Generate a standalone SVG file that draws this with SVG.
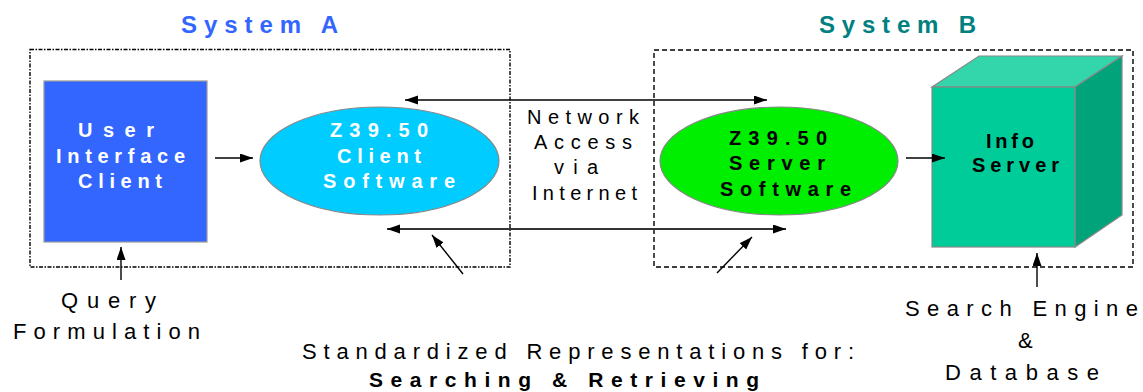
<svg xmlns="http://www.w3.org/2000/svg" width="1143" height="392" viewBox="0 0 1143 392">
  <style>
    .t { font-family: "Liberation Sans", Arial, sans-serif; }
    .b { font-weight: bold; }
    .node-w { fill: #ffffff; font-size: 20px; font-weight: bold; }
    .node-k { fill: #000000; font-size: 20px; font-weight: bold; }
    .lbl { fill: #000000; font-size: 20px; }
    .cap { fill: #000000; font-size: 22px; }
    .edge { stroke: #000000; stroke-width: 1.4; fill: none; }
    .edge-dark { stroke: #333333; stroke-width: 2; fill: none; }
    .frame { fill: none; stroke: #000000; stroke-width: 1.4; }
  </style>
  <defs>
    <marker id="head" markerUnits="userSpaceOnUse" markerWidth="14" markerHeight="10" refX="13" refY="4.5" orient="auto-start-reverse">
      <path d="M0,0 L13,4.5 L0,9 z" fill="#000000"/>
    </marker>
  </defs>

  <rect width="1143" height="392" fill="#ffffff"/>

  <!-- system boundaries -->
  <g id="system-a">
    <rect class="frame" x="30" y="49.5" width="480" height="217.5" stroke-dasharray="4 1.5 1.5 1.5"/>
    <text class="t b" x="181" y="33" font-size="24" fill="#3366FF" textLength="157" lengthAdjust="spacing">System A</text>
  </g>
  <g id="system-b">
    <rect class="frame" x="654" y="50" width="479" height="217" stroke-dasharray="5 3"/>
    <text class="t b" x="819" y="33" font-size="24" fill="#008080" textLength="157" lengthAdjust="spacing">System B</text>
  </g>

  <!-- user interface client -->
  <g id="ui-client">
    <rect x="44" y="81" width="163" height="161" fill="#3366FF" stroke="#999999" stroke-width="1.2"/>
    <text class="t node-w" x="78" y="137" textLength="76" lengthAdjust="spacing">User</text>
    <text class="t node-w" x="56" y="162.5" textLength="129" lengthAdjust="spacing">Interface</text>
    <text class="t node-w" x="78" y="187.5" textLength="84" lengthAdjust="spacing">Client</text>
  </g>

  <!-- Z39.50 client software -->
  <g id="z3950-client">
    <ellipse cx="379.5" cy="161" rx="119.5" ry="54" fill="#00CCFF" stroke="#888888" stroke-width="1.2"/>
    <text class="t node-w" x="330" y="137" textLength="98" lengthAdjust="spacing">Z39.50</text>
    <text class="t node-w" x="337" y="162.5" textLength="84" lengthAdjust="spacing">Client</text>
    <text class="t node-w" x="323" y="188" textLength="132" lengthAdjust="spacing">Software</text>
  </g>

  <!-- Z39.50 server software -->
  <g id="z3950-server">
    <ellipse cx="779" cy="161" rx="119" ry="54" fill="#00EE00" stroke="#888888" stroke-width="1.2"/>
    <text class="t node-k" x="729" y="145" textLength="98" lengthAdjust="spacing">Z39.50</text>
    <text class="t node-k" x="729" y="170" textLength="96" lengthAdjust="spacing">Server</text>
    <text class="t node-k" x="720" y="196" textLength="131" lengthAdjust="spacing">Software</text>
  </g>

  <!-- info server cube -->
  <g id="info-server">
    <polygon points="932,87 979,56 1122,56 1075,87" fill="#33D6AA" stroke="#888888" stroke-width="1.2"/>
    <polygon points="1075,87 1122,56 1122,215 1075,247" fill="#00A37A" stroke="#888888" stroke-width="1.2"/>
    <rect x="932" y="87" width="143" height="160" fill="#00CC99" stroke="#888888" stroke-width="1.2"/>
    <text class="t node-k" x="986" y="148" textLength="48" lengthAdjust="spacing">Info</text>
    <text class="t node-k" x="972" y="172" textLength="87" lengthAdjust="spacing">Server</text>
  </g>

  <!-- network label -->
  <g id="network">
    <text class="t lbl" x="527" y="124" textLength="112" lengthAdjust="spacing">Network</text>
    <text class="t lbl" x="534" y="149" textLength="98" lengthAdjust="spacing">Access</text>
    <text class="t lbl" x="554" y="174" textLength="44" lengthAdjust="spacing">via</text>
    <text class="t lbl" x="532" y="200" textLength="105" lengthAdjust="spacing">Internet</text>
  </g>

  <!-- outside annotations -->
  <g id="query">
    <text class="t cap" x="61" y="308" textLength="95" lengthAdjust="spacing">Query</text>
    <text class="t cap" x="13" y="339" textLength="187" lengthAdjust="spacing">Formulation</text>
  </g>
  <g id="representations">
    <text class="t cap" x="302" y="359" textLength="552" lengthAdjust="spacing">Standardized Representations for:</text>
    <text class="t b" x="369" y="387" font-size="21" fill="#000000" textLength="390" lengthAdjust="spacing">Searching &amp; Retrieving</text>
  </g>
  <g id="search-engine">
    <text class="t cap" x="905" y="316" textLength="233" lengthAdjust="spacing">Search Engine</text>
    <text class="t cap" x="1018" y="348">&amp;</text>
    <text class="t cap" x="945" y="380" textLength="154" lengthAdjust="spacing">Database</text>
  </g>

  <!-- connectors -->
  <g id="connectors">
    <line class="edge" x1="215" y1="158" x2="253" y2="158" marker-end="url(#head)"/>
    <line class="edge" x1="906" y1="158" x2="945" y2="158" marker-end="url(#head)"/>
    <line class="edge" x1="405" y1="100" x2="767" y2="100" marker-start="url(#head)" marker-end="url(#head)"/>
    <line class="edge-dark" x1="387" y1="229" x2="786" y2="229" marker-start="url(#head)" marker-end="url(#head)"/>
    <line class="edge" x1="121" y1="280" x2="121" y2="247" marker-end="url(#head)"/>
    <line class="edge" x1="1037" y1="287" x2="1037" y2="253" marker-end="url(#head)"/>
    <line class="edge" x1="463" y1="274" x2="432" y2="235" marker-end="url(#head)"/>
    <line class="edge" x1="717" y1="273" x2="752" y2="237" marker-end="url(#head)"/>
  </g>
</svg>
